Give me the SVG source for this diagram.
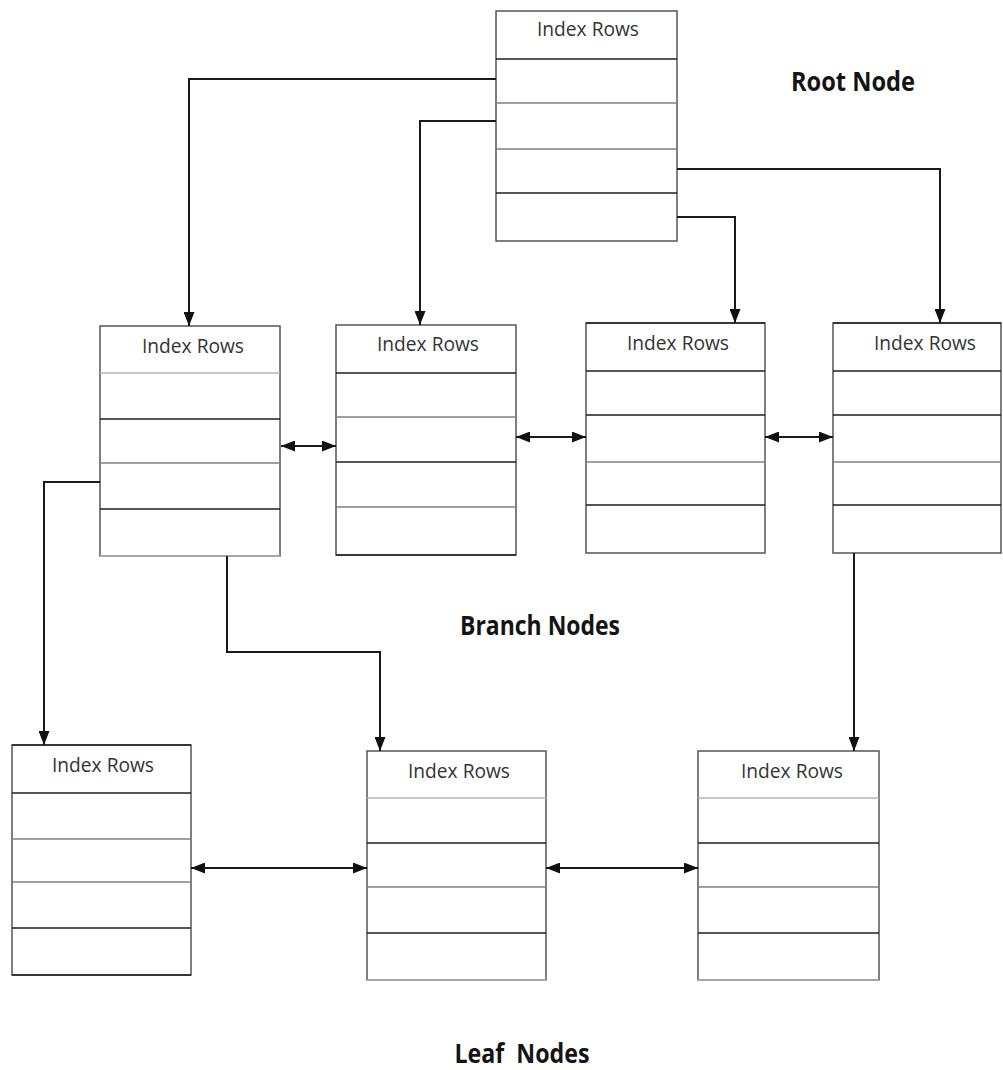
<svg xmlns="http://www.w3.org/2000/svg" width="1003" height="1070" viewBox="0 0 1003 1070">
<style>
.bg{fill:#ffffff}
.box{fill:#ffffff;stroke:#555555;stroke-width:1.5}
.dk{stroke:#1e1e1e;stroke-width:1.6}
.md{stroke:#808080;stroke-width:1.3}
.lt{stroke:#b4b4b4;stroke-width:1.3}
.t{font-family:"Open Sans","Noto Sans",sans-serif;font-size:20px;fill:#333333;text-anchor:middle}
.lbl{font-family:"Open Sans","Noto Sans",sans-serif;font-size:26px;font-weight:bold;fill:#141414;text-anchor:middle}
.c{fill:none;stroke:#1a1a1a;stroke-width:2}
.a{marker-end:url(#ah)}
.aa{marker-start:url(#ah);marker-end:url(#ah)}
</style>
<defs>
<marker id="ah" markerUnits="userSpaceOnUse" markerWidth="14" markerHeight="11" refX="14" refY="5.5" orient="auto-start-reverse">
<path d="M0,0 L14,5.5 L0,11 z" fill="#111111"/>
</marker>
</defs>
<rect class="bg" x="0" y="0" width="1003" height="1070"/>

<g id="root">
<rect class="box" x="496" y="11" width="181" height="230"/>
<line class="dk" x1="496" y1="59" x2="677" y2="59"/>
<line class="md" x1="496" y1="103" x2="677" y2="103"/>
<line class="md" x1="496" y1="149" x2="677" y2="149"/>
<line class="dk" x1="496" y1="193" x2="677" y2="193"/>
<text class="t" x="588" y="36" textLength="102" lengthAdjust="spacingAndGlyphs">Index Rows</text>
</g>

<g id="branch1">
<rect class="box" x="100" y="326" width="180" height="230"/>
<line class="lt" x1="100" y1="373" x2="280" y2="373"/>
<line class="dk" x1="100" y1="419" x2="280" y2="419"/>
<line class="md" x1="100" y1="463" x2="280" y2="463"/>
<line class="dk" x1="100" y1="509" x2="280" y2="509"/>
<line class="lt" x1="100" y1="556" x2="280" y2="556"/>
<text class="t" x="193" y="353" textLength="102" lengthAdjust="spacingAndGlyphs">Index Rows</text>
</g>

<g id="branch2">
<rect class="box" x="336" y="325" width="180" height="230"/>
<line class="dk" x1="336" y1="373" x2="516" y2="373"/>
<line class="md" x1="336" y1="417" x2="516" y2="417"/>
<line class="dk" x1="336" y1="462" x2="516" y2="462"/>
<line class="md" x1="336" y1="507" x2="516" y2="507"/>
<line class="dk" x1="336" y1="555" x2="516" y2="555"/>
<text class="t" x="428" y="351" textLength="102" lengthAdjust="spacingAndGlyphs">Index Rows</text>
</g>

<g id="branch3">
<rect class="box" x="586" y="323" width="179" height="230"/>
<line class="dk" x1="586" y1="323" x2="765" y2="323"/>
<line class="dk" x1="586" y1="371" x2="765" y2="371"/>
<line class="dk" x1="586" y1="415" x2="765" y2="415"/>
<line class="md" x1="586" y1="462" x2="765" y2="462"/>
<line class="dk" x1="586" y1="505" x2="765" y2="505"/>
<text class="t" x="678" y="350" textLength="102" lengthAdjust="spacingAndGlyphs">Index Rows</text>
</g>

<g id="branch4">
<rect class="box" x="833" y="323" width="168" height="230"/>
<line class="dk" x1="833" y1="323" x2="1001" y2="323"/>
<line class="dk" x1="833" y1="371" x2="1001" y2="371"/>
<line class="dk" x1="833" y1="415" x2="1001" y2="415"/>
<line class="md" x1="833" y1="462" x2="1001" y2="462"/>
<line class="dk" x1="833" y1="505" x2="1001" y2="505"/>
<text class="t" x="925" y="350" textLength="102" lengthAdjust="spacingAndGlyphs">Index Rows</text>
</g>

<g id="leaf1">
<rect class="box" x="12" y="745" width="179" height="230"/>
<line class="dk" x1="12" y1="745" x2="191" y2="745"/>
<line class="dk" x1="12" y1="793" x2="191" y2="793"/>
<line class="md" x1="12" y1="839" x2="191" y2="839"/>
<line class="md" x1="12" y1="882" x2="191" y2="882"/>
<line class="dk" x1="12" y1="928" x2="191" y2="928"/>
<line class="dk" x1="12" y1="975" x2="191" y2="975"/>
<text class="t" x="103" y="772" textLength="102" lengthAdjust="spacingAndGlyphs">Index Rows</text>
</g>

<g id="leaf2">
<rect class="box" x="367" y="751" width="179" height="229"/>
<line class="lt" x1="367" y1="798" x2="546" y2="798"/>
<line class="dk" x1="367" y1="843" x2="546" y2="843"/>
<line class="md" x1="367" y1="887" x2="546" y2="887"/>
<line class="dk" x1="367" y1="933" x2="546" y2="933"/>
<line class="lt" x1="367" y1="980" x2="546" y2="980"/>
<text class="t" x="459" y="778" textLength="102" lengthAdjust="spacingAndGlyphs">Index Rows</text>
</g>

<g id="leaf3">
<rect class="box" x="698" y="751" width="181" height="229"/>
<line class="lt" x1="698" y1="798" x2="879" y2="798"/>
<line class="dk" x1="698" y1="843" x2="879" y2="843"/>
<line class="md" x1="698" y1="887" x2="879" y2="887"/>
<line class="dk" x1="698" y1="933" x2="879" y2="933"/>
<line class="lt" x1="698" y1="980" x2="879" y2="980"/>
<text class="t" x="792" y="778" textLength="102" lengthAdjust="spacingAndGlyphs">Index Rows</text>
</g>

<g id="connectors">
<path class="c a" d="M496,79 H189 V326"/>
<path class="c a" d="M496,121 H420 V325"/>
<path class="c a" d="M677,169 H940 V323"/>
<path class="c a" d="M677,217 H735 V323"/>
<path class="c aa" d="M281,446 H336"/>
<path class="c aa" d="M516,437 H586"/>
<path class="c aa" d="M765,437 H833"/>
<path class="c a" d="M100,482 H44 V745"/>
<path class="c a" d="M227,556 V652 H380 V751"/>
<path class="c a" d="M854,553 V751"/>
<path class="c aa" d="M191,868 H367"/>
<path class="c aa" d="M546,868 H698"/>
</g>

<g id="labels">
<text class="lbl" x="853" y="91" textLength="124" lengthAdjust="spacingAndGlyphs">Root Node</text>
<text class="lbl" x="540" y="635" textLength="160" lengthAdjust="spacingAndGlyphs">Branch Nodes</text>
<text class="lbl" x="522" y="1063" textLength="135" lengthAdjust="spacingAndGlyphs" xml:space="preserve">Leaf  Nodes</text>
</g>
</svg>
